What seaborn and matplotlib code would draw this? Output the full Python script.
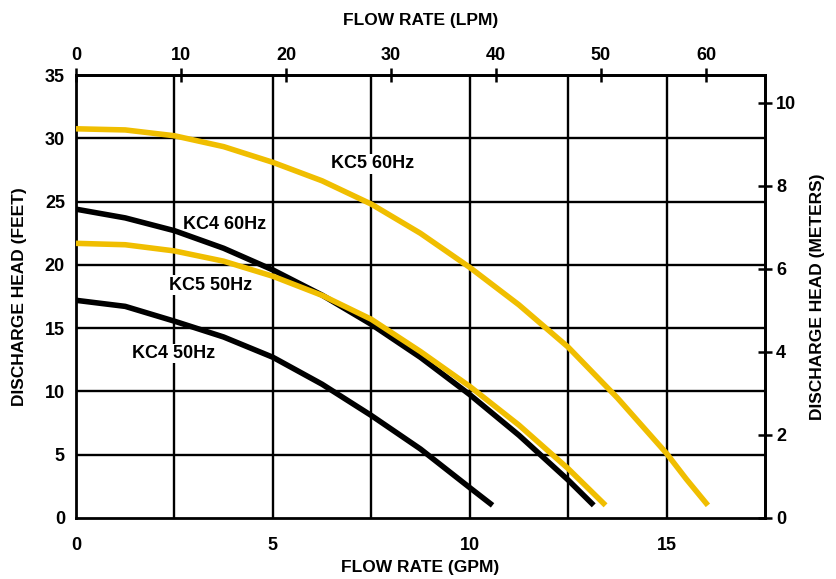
import matplotlib
matplotlib.use("Agg")
import matplotlib.pyplot as plt
import seaborn as sns
import pandas as pd
import numpy as np

# ---- data ----
gpm_kc5_60 = [0, 1.25, 2.5, 3.75, 5, 6.25, 7.5, 8.75, 10, 11.25, 12.5, 13.75, 15, 15.5, 16.05]
head_kc5_60 = [30.75, 30.66, 30.2, 29.34, 28.1, 26.64, 24.8, 22.49, 19.8, 16.84, 13.5, 9.49, 5.1, 3.08, 1.0]

gpm_kc4_60 = [0, 1.25, 2.5, 3.75, 5, 6.25, 7.5, 8.75, 10, 11.25, 12.5, 13.15]
head_kc4_60 = [24.4, 23.71, 22.7, 21.31, 19.6, 17.61, 15.3, 12.69, 9.75, 6.54, 3.0, 1.0]

gpm_kc5_50 = [0, 1.25, 2.5, 3.75, 5, 6.25, 7.5, 8.75, 10, 11.25, 12.5, 13.45]
head_kc5_50 = [21.7, 21.59, 21.1, 20.29, 19.1, 17.59, 15.7, 13.15, 10.4, 7.34, 3.9, 1.0]

gpm_kc4_50 = [0, 1.25, 2.5, 3.75, 5, 6.25, 7.5, 8.75, 10, 10.58]
head_kc4_50 = [17.2, 16.72, 15.55, 14.3, 12.7, 10.57, 8.1, 5.45, 2.4, 1.0]

series_names = ["KC5 60Hz", "KC4 60Hz", "KC5 50Hz", "KC4 50Hz"]
series_colors = ["#F0BE00", "#000000", "#F0BE00", "#000000"]

gpm_ticks = [0, 5, 10, 15]
ft_ticks = [0, 5, 10, 15, 20, 25, 30, 35]
lpm_ticks = [0, 10, 20, 30, 40, 50, 60]
m_ticks = [0, 2, 4, 6, 8, 10]

label_x = [7.52, 3.77, 3.41, 2.48]
label_y = [28.0, 23.2, 18.4, 13.0]

LPM_PER_GPM = 3.75
FT_PER_M = 3.281

# ---- build long-form table ----
frames = []
for name, xs, ys in zip(series_names,
                        [gpm_kc5_60, gpm_kc4_60, gpm_kc5_50, gpm_kc4_50],
                        [head_kc5_60, head_kc4_60, head_kc5_50, head_kc4_50]):
    frames.append(pd.DataFrame({"gpm": xs, "head": ys, "series": name}))
df = pd.concat(frames, ignore_index=True)

sns.set_style("white")
plt.rcParams["font.family"] = ["Liberation Sans", "DejaVu Sans"]
plt.rcParams["font.weight"] = "bold"
for k in ["text.color", "axes.labelcolor", "xtick.color", "ytick.color", "axes.edgecolor"]:
    plt.rcParams[k] = "black"

fig = plt.figure(figsize=(8.36, 5.79), dpi=100)
ax = fig.add_axes([76 / 836, 1 - 518 / 579, (765 - 76) / 836, (518 - 75) / 579])

# grid
for gx in np.arange(2.5, 17.5, 2.5):
    ax.axvline(gx, color="black", lw=1.7, zorder=1)
for gy in np.arange(5, 35, 5):
    ax.axhline(gy, color="black", lw=1.7, zorder=1)

sns.lineplot(data=df, x="gpm", y="head", hue="series", hue_order=series_names,
             palette=dict(zip(series_names, series_colors)), ax=ax, legend=False,
             lw=4, sort=False, estimator=None, zorder=3)
for line in ax.get_lines()[-4:]:
    line.set_solid_capstyle("butt")
    line.set_solid_joinstyle("round")

ax.set_xlim(0, 17.5)
ax.set_ylim(0, 35)
ax.set_xticks(gpm_ticks)
ax.set_yticks(ft_ticks)
for s in ax.spines.values():
    s.set_color("black")
    s.set_linewidth(2)
    s.set_visible(True)

ax.tick_params(axis="both", direction="inout", length=8, width=1.8, colors="black",
               labelsize=13, pad=4)
ax.tick_params(axis="x", pad=10)
for lab in ax.get_xticklabels() + ax.get_yticklabels():
    lab.set_fontweight("bold")

ax.set_xlabel("FLOW RATE (GPM)", fontsize=12.5, fontweight="bold", labelpad=4)
ax.set_ylabel("DISCHARGE HEAD (FEET)", fontsize=12.5, fontweight="bold", labelpad=13)

secx = ax.secondary_xaxis("top", functions=(lambda g: g * LPM_PER_GPM, lambda l: l / LPM_PER_GPM))
secx.set_xticks(lpm_ticks)
secx.tick_params(direction="inout", length=10, width=1.8, labelsize=13, pad=3, colors="black")
for lab in secx.get_xticklabels():
    lab.set_fontweight("bold")
secx.set_xlabel("FLOW RATE (LPM)", fontsize=12.5, fontweight="bold", labelpad=16)
secx.spines["top"].set_linewidth(2)

secy = ax.secondary_yaxis("right", functions=(lambda f: f / FT_PER_M, lambda m: m * FT_PER_M))
secy.set_yticks(m_ticks)
secy.tick_params(direction="inout", length=10, width=1.8, labelsize=13, pad=3, colors="black")
for lab in secy.get_yticklabels():
    lab.set_fontweight("bold")
secy.set_ylabel("DISCHARGE HEAD (METERS)", fontsize=12.5, fontweight="bold", labelpad=10)
secy.spines["right"].set_linewidth(2)

for name, lx, ly in zip(series_names, label_x, label_y):
    ax.text(lx, ly, name, ha="center", va="center", fontsize=13, fontweight="bold",
            color="black", zorder=2, bbox=dict(facecolor="white", edgecolor="none", pad=1))

fig.savefig("out.png", dpi=100)
